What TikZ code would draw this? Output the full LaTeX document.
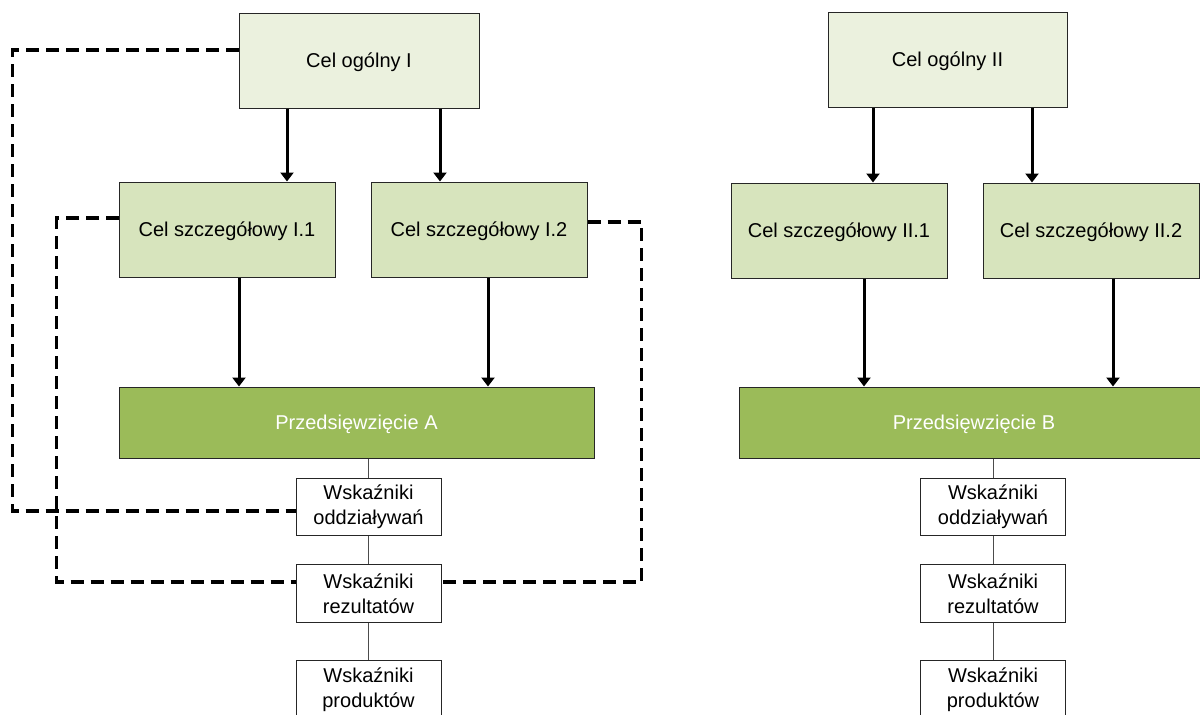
\documentclass[tikz,border=0pt]{standalone}
\usepackage{fontspec}
\setmainfont{Liberation Sans}
\usetikzlibrary{arrows.meta}
\definecolor{golight}{HTML}{EBF1DE}
\definecolor{szlight}{HTML}{D7E4BD}
\definecolor{przgreen}{HTML}{9BBB59}
\begin{document}
\begin{tikzpicture}[x=1pt,y=-1pt,
  base/.style={draw=black!85,line width=1pt,inner sep=0pt,align=center,font=\fontsize{20}{25}\selectfont},
  gobox/.style={base,fill=golight,minimum width=240pt,minimum height=95pt,text depth=0pt},
  szbox/.style={base,fill=szlight,minimum width=216pt,minimum height=95pt,text depth=0pt},
  prbox/.style={base,fill=przgreen,text=white,minimum height=71pt,text depth=0pt},
  wbox/.style={base,fill=white,minimum width=145pt,minimum height=57.5pt},
  arr/.style={line width=3pt,-{Triangle[width=13pt,length=9pt]}},
  thin/.style={draw=black!70,line width=1pt},
  dashline/.style={line width=3.4pt,dash pattern=on 13pt off 7pt}]
\useasboundingbox (0,0) rectangle (1200,715);
\begin{scope}
\clip (0,0) rectangle (1200,715);
% left side
\node[gobox] (go1) at (359,60.5) {Cel ogólny I};
\node[szbox] (s11) at (227,229.5) {Cel szczegółowy I.1};
\node[szbox] (s12) at (479,229.5) {Cel szczegółowy I.2};
\node[prbox,minimum width=475pt] (pA) at (356.5,422.5) {Przedsięwzięcie A};
\node[wbox] (oA) at (368.5,507) {Wskaźniki\\oddziaływań};
\node[wbox] (rA) at (368.5,593.5) {Wskaźniki\\rezultatów};
\node[wbox] (kA) at (368.5,689.5) {Wskaźniki\\produktów};
% right side
\node[gobox,minimum width=239pt] (go2) at (947.5,59.5) {Cel ogólny II};
\node[szbox] (s21) at (839,230.5) {Cel szczegółowy II.1};
\node[szbox] (s22) at (1091,230.5) {Cel szczegółowy II.2};
\node[prbox,minimum width=470pt] (pB) at (974,422.5) {Przedsięwzięcie B};
\node[wbox] (oB) at (993,507) {Wskaźniki\\oddziaływań};
\node[wbox] (rB) at (993,593.5) {Wskaźniki\\rezultatów};
\node[wbox] (kB) at (993,689.5) {Wskaźniki\\produktów};
% arrows left
\draw[arr] ([xshift=-72pt]go1.south) -- ([xshift=-72pt]go1.south |- s11.north);
\draw[arr] ([xshift=81pt]go1.south) -- ([xshift=81pt]go1.south |- s12.north);
\draw[arr] ([xshift=12pt]s11.south) -- ([xshift=12pt]s11.south |- pA.north);
\draw[arr] ([xshift=9pt]s12.south) -- ([xshift=9pt]s12.south |- pA.north);
% arrows right
\draw[arr] ([xshift=-74.5pt]go2.south) -- ([xshift=-74.5pt]go2.south |- s21.north);
\draw[arr] ([xshift=84.5pt]go2.south) -- ([xshift=84.5pt]go2.south |- s22.north);
\draw[arr] ([xshift=25pt]s21.south) -- ([xshift=25pt]s21.south |- pB.north);
\draw[arr] ([xshift=22pt]s22.south) -- ([xshift=22pt]s22.south |- pB.north);
% thin connectors
\draw[thin] (oA.north |- pA.south) -- (oA.north);
\draw[thin] (oA.south) -- (rA.north);
\draw[thin] (rA.south) -- (kA.north);
\draw[thin] (oB.north |- pB.south) -- (oB.north);
\draw[thin] (oB.south) -- (rB.north);
\draw[thin] (rB.south) -- (kB.north);
% dashed feedback lines
\draw[dashline] ([yshift=10.5pt]go1.west) -- ++(-226pt,0) |- ([yshift=-4pt]oA.west);
\draw[dashline] ([yshift=11.5pt]s11.west) -- ++(-62pt,0) |- ([yshift=11.5pt]rA.west);
\draw[dashline] ([yshift=7.5pt]s12.east) -- ++(54pt,0) |- ([yshift=11.5pt]rA.east);
\end{scope}
\end{tikzpicture}
\end{document}
